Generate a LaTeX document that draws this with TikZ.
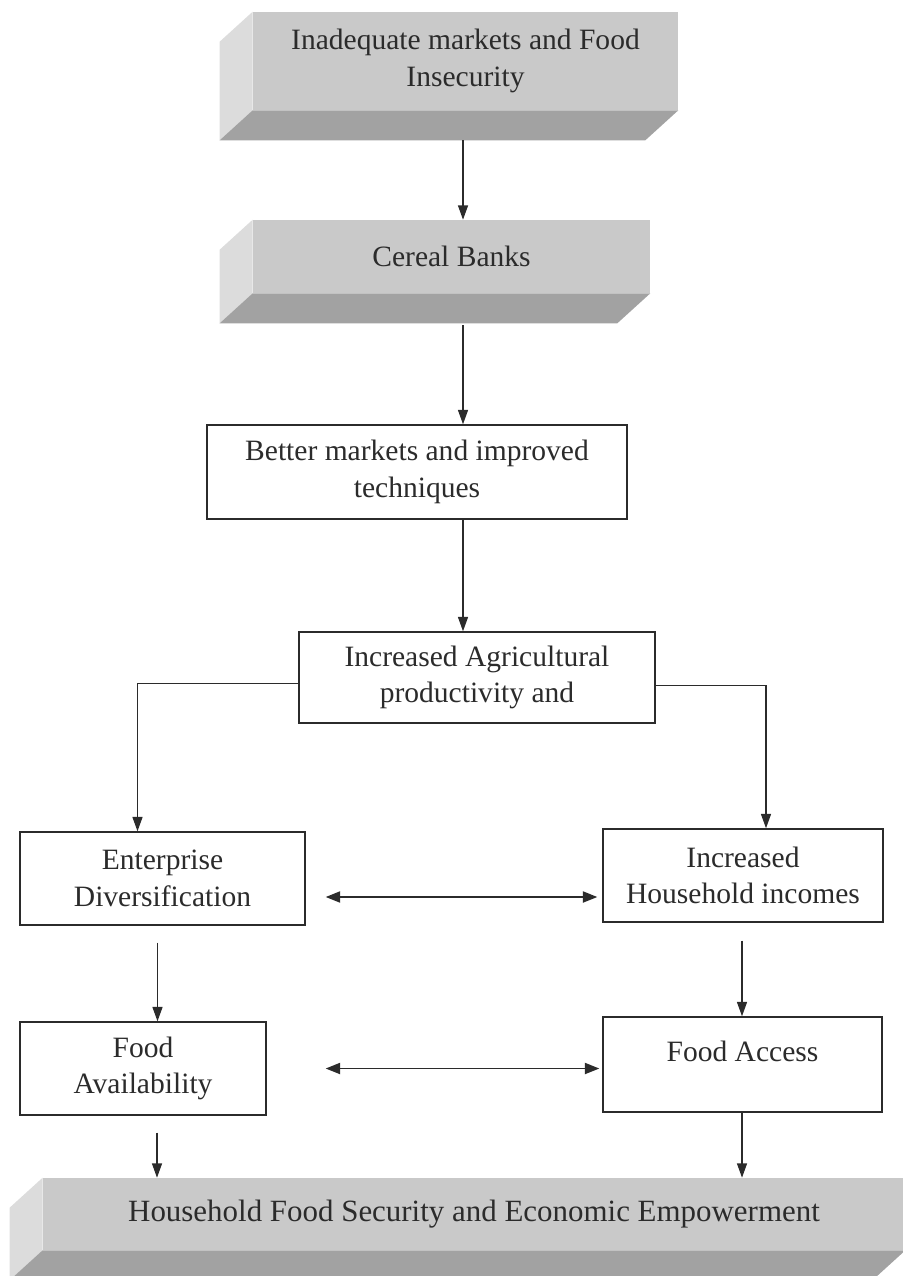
\documentclass[tikz,border=0pt]{standalone}
\usepackage{fontspec}
\setmainfont{Liberation Serif}
\usepackage{tikz}
\usetikzlibrary{positioning,calc,arrows.meta}
\definecolor{SlabFace}{HTML}{C9C9C9}
\definecolor{SlabSide}{HTML}{DCDCDC}
\definecolor{SlabBot}{HTML}{A2A2A2}
\definecolor{Ink}{HTML}{2B2B2B}

\begin{document}
\begin{tikzpicture}[x=0.025cm, y=-0.025cm,
  every node/.style={align=center, font=\fontsize{21}{26}\selectfont, text=Ink, inner sep=0pt},
  slab/.style={fill=SlabFace},
  bbox/.style={draw=Ink, line width=1pt, fill=white},
  arr/.style={draw=Ink, line width=1pt, -{Triangle[length=0.36cm, width=0.25cm]}},
  darr/.style={draw=Ink, line width=1pt, {Triangle[length=0.36cm, width=0.28cm]}-{Triangle[length=0.36cm, width=0.28cm]}}]
\useasboundingbox (0,0) rectangle (902,1276);
% grey slabs
\node[slab, minimum width=10.625cm, minimum height=2.45cm] (top) at (465.5,61) {Inadequate markets and Food\\ Insecurity};
\node[slab, minimum width=9.925cm, minimum height=1.825cm] (cereal) at (451.5,256.5) {Cereal Banks};
\node[slab, minimum width=21.55cm, minimum height=1.8cm, font=\fontsize{22}{26}\selectfont] (bottom) at (474,1214) {Household Food Security and Economic Empowerment};
\foreach \s in {top,cereal,bottom} {
  \fill[SlabSide] (\s.north west) -- ++(-33,30) -- ($(\s.south west)+(-33,30)$) -- (\s.south west) -- cycle;
  \fill[SlabBot] (\s.south west) -- ++(-33,30) -- ($(\s.south east)+(-33,30)$) -- (\s.south east) -- cycle;
}
% white boxes
\node[bbox, minimum width=10.5cm, minimum height=2.35cm] (better) at (417,472) {Better markets and improved\\ techniques};
\node[bbox, minimum width=8.9cm, minimum height=2.275cm] (agri) at (477,677.5) {Increased Agricultural\\ productivity and};
\node[bbox, minimum width=7.125cm, minimum height=2.325cm] (ent) at (162.5,878.5) {Enterprise\\ Diversification};
\node[bbox, minimum width=7cm, minimum height=2.325cm] (hh) at (743,875.5) {Increased\\ Household incomes};
\node[bbox, minimum width=6.15cm, minimum height=2.325cm] (avail) at (143,1068.5) {Food\\ Availability};
\node[bbox, minimum width=6.975cm, minimum height=2.375cm] (access) at (742.5,1064.5) {\strut\\[-14pt] Food Access\\ \strut};
% connectors
\coordinate (a1) at (463,140);
\coordinate (a2) at (463,325);
\draw[arr] (a1) -- (a1 |- cereal.north);
\draw[arr] (a2) -- (a2 |- better.north);
\draw[arr] (better.south -| a2) -- (agri.north -| a2);
\draw[arr] ($(agri.west)+(0,6)$) -| ($(ent.north)+(-25,0)$);
\draw[arr] ($(agri.east)+(0,8)$) -| ($(hh.north)+(23,0)$);
\draw[darr] ($(ent.east)+(20,18.5)$) -- ($(hh.west)+(-5,21.5)$);
\draw[arr] ($(ent.south)+(-5,17)$) coordinate (d1) -- (d1 |- avail.north);
\draw[arr] ($(hh.south)+(-1,18)$) coordinate (d2) -- (d2 |- access.north);
\draw[darr] ($(avail.east)+(59,0)$) -- ($(access.west)+(-3,4)$);
\draw[arr] ($(avail.south)+(14,17)$) coordinate (d3) -- (d3 |- bottom.north);
\draw[arr] (access.south -| d2) -- (d2 |- bottom.north);
\end{tikzpicture}
\end{document}
